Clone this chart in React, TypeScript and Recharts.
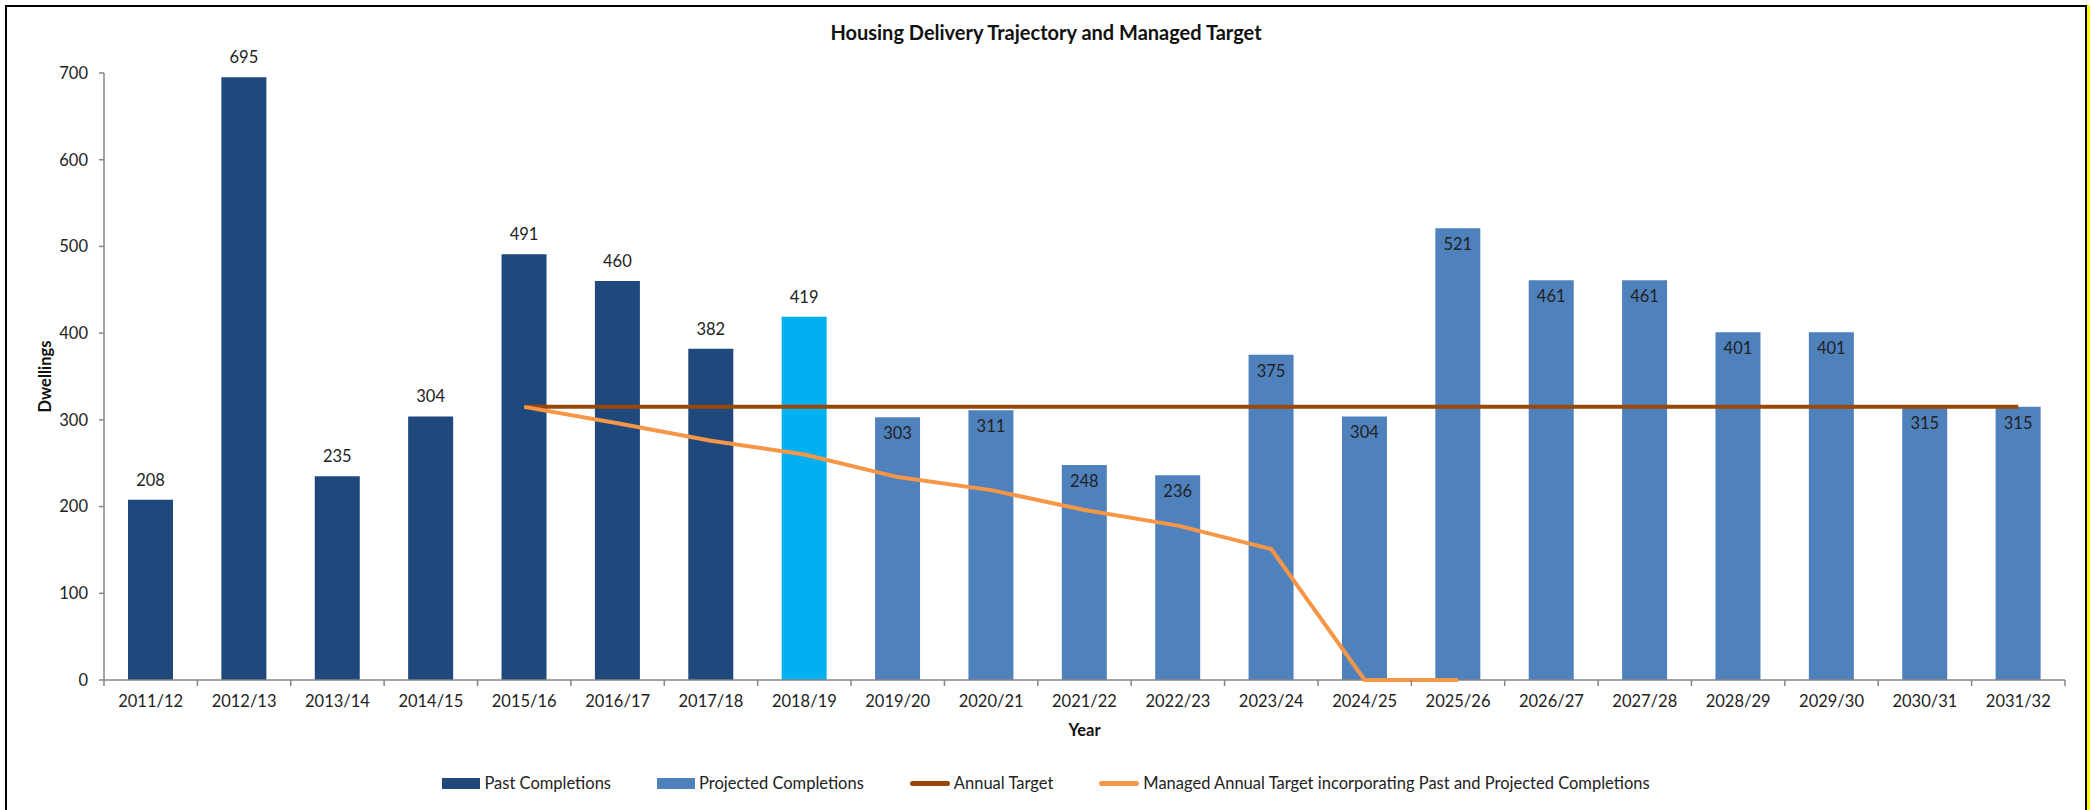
import React from 'react';
import { ComposedChart, Bar, Line, XAxis, YAxis, Legend, LabelList, Cell } from 'recharts';

const years = ['2011/12', '2012/13', '2013/14', '2014/15', '2015/16', '2016/17', '2017/18', '2018/19', '2019/20', '2020/21', '2021/22', '2022/23', '2023/24', '2024/25', '2025/26', '2026/27', '2027/28', '2028/29', '2029/30', '2030/31', '2031/32'];
const pastCompletions: (number | null)[] = [208, 695, 235, 304, 491, 460, 382, 419, null, null, null, null, null, null, null, null, null, null, null, null, null];
const projectedCompletions: (number | null)[] = [null, null, null, null, null, null, null, null, 303, 311, 248, 236, 375, 304, 521, 461, 461, 401, 401, 315, 315];
const annualTarget: (number | null)[] = [null, null, null, null, 315, 315, 315, 315, 315, 315, 315, 315, 315, 315, 315, 315, 315, 315, 315, 315, 315];
const managedTarget: (number | null)[] = [null, null, null, null, 315, 296, 276, 260, 234, 219, 196, 178, 151, 0, 0, null, null, null, null, null, null];
const yTicks = [0, 100, 200, 300, 400, 500, 600, 700];
const highlightYear = '2018/19';

const seriesNames = {
  past: 'Past Completions',
  projected: 'Projected Completions',
  annual: 'Annual Target',
  managed: 'Managed Annual Target incorporating Past and Projected Completions',
};

const COLORS = {
  past: '#1F497D',
  projected: '#4F81BD',
  highlight: '#00B0F0',
  annual: '#984807',
  managed: '#F79646',
  axis: '#868686',
  text: '#222222',
};

const FONT = "Lato, 'Open Sans', sans-serif";
const FS = 16.5;
const X_TICK_MARGIN = 15;

const data = years.map((year, i) => ({
  year,
  past: pastCompletions[i],
  projected: projectedCompletions[i],
  annual: annualTarget[i],
  managed: managedTarget[i],
}));

const XTick = (props: any) => {
  const { x, y, payload, index, visibleTicksCount, width } = props;
  const half = typeof payload?.offset === 'number' && payload.offset > 0 ? payload.offset : width / visibleTicksCount / 2;
  const axisY = y - X_TICK_MARGIN;
  return (
    <g>
      <line x1={x - half} x2={x - half} y1={axisY} y2={axisY + 6} stroke={COLORS.axis} strokeWidth={1.5} />
      {index === visibleTicksCount - 1 && (
        <line x1={x + half} x2={x + half} y1={axisY} y2={axisY + 6} stroke={COLORS.axis} strokeWidth={1.5} />
      )}
      <text x={x} y={y} dy="0.71em" textAnchor="middle" fill={COLORS.text} fontSize={FS} fontFamily={FONT}>
        {payload.value}
      </text>
    </g>
  );
};

const legendItems = [
  { key: 'past', type: 'rect', color: COLORS.past },
  { key: 'projected', type: 'rect', color: COLORS.projected },
  { key: 'annual', type: 'line', color: COLORS.annual },
  { key: 'managed', type: 'line', color: COLORS.managed },
];

const LegendContent = () => (
  <div style={{ display: 'flex', justifyContent: 'center', alignItems: 'center', height: 30, gap: 46, fontFamily: FONT, fontSize: FS, color: COLORS.text }}>
    {legendItems.map((it) => (
      <div key={it.key} style={{ display: 'flex', alignItems: 'center', gap: 4 }}>
        {it.type === 'rect' ? (
          <div style={{ width: 38, height: 11, background: it.color }} />
        ) : (
          <div style={{ width: 40, height: 5, borderRadius: 3, background: it.color }} />
        )}
        <span style={{ whiteSpace: 'nowrap' }}>{(seriesNames as any)[it.key]}</span>
      </div>
    ))}
  </div>
);

export default function App() {
  return (
    <div style={{ position: 'relative', width: 2092, height: 810, overflow: 'hidden', background: '#fff' }}>
      <style>{'body{margin:0;}'}</style>
      <div style={{ position: 'absolute', left: 5, top: 5, width: 2082, height: 900, border: '2px solid #000', boxSizing: 'border-box' }} />
      <div style={{ position: 'absolute', left: 2087, top: 5, width: 3, height: 810, background: '#FFFF00' }} />
      <div style={{ position: 'absolute', left: 0, top: 20, width: 2092, textAlign: 'center', fontFamily: FONT, fontWeight: 'bold', fontSize: 20, color: '#111', lineHeight: '24px' }}>
        Housing Delivery Trajectory and Managed Target
      </div>
      <div style={{ position: 'absolute', left: 0, top: 0 }}>
        <ComposedChart width={2092} height={810} data={data} margin={{ top: 73, right: 27, left: 44, bottom: 12 }}>
          <XAxis
            dataKey="year"
            height={88}
            tickSize={0}
            tickMargin={X_TICK_MARGIN}
            tickLine={false}
            interval={0}
            axisLine={{ stroke: COLORS.axis, strokeWidth: 1.5 }}
            tick={<XTick />}
            label={{
              content: (p: any) => {
                const vb = p.viewBox || {};
                return (
                  <text x={vb.x + vb.width / 2} y={vb.y + 50} dominantBaseline="central" textAnchor="middle" fontWeight="bold" fontSize={FS} fontFamily={FONT} fill="#111">
                    Year
                  </text>
                );
              },
            }}
          />
          <YAxis
            width={60}
            domain={[0, 700]}
            ticks={yTicks}
            interval={0}
            tickSize={5}
            tickMargin={11}
            axisLine={{ stroke: COLORS.axis, strokeWidth: 1.5 }}
            tickLine={{ stroke: COLORS.axis, strokeWidth: 1.5 }}
            tick={{ fill: COLORS.text, fontSize: FS, fontFamily: FONT }}
            label={{
              content: (p: any) => {
                const vb = p.viewBox || {};
                const cx = vb.x + 1;
                const cy = vb.y + vb.height / 2;
                return (
                  <text x={cx} y={cy} transform={`rotate(-90 ${cx} ${cy})`} dominantBaseline="central" textAnchor="middle" fontWeight="bold" fontSize={FS} fontFamily={FONT} fill="#111">
                    Dwellings
                  </text>
                );
              },
            }}
          />
          <Legend verticalAlign="bottom" content={<LegendContent />} wrapperStyle={{ left: 0, width: 2092 }} />
          <Bar dataKey="past" name={seriesNames.past} stackId="a" barSize={45} fill={COLORS.past} isAnimationActive={false}>
            {data.map((d) => (
              <Cell key={d.year} fill={d.year === highlightYear ? COLORS.highlight : COLORS.past} />
            ))}
            <LabelList dataKey="past" position="top" offset={14} fill={COLORS.text} fontSize={FS} fontFamily={FONT} />
          </Bar>
          <Bar dataKey="projected" name={seriesNames.projected} stackId="a" barSize={45} fill={COLORS.projected} isAnimationActive={false}>
            <LabelList dataKey="projected" position="insideTop" offset={10} fill={COLORS.text} fontSize={FS} fontFamily={FONT} />
          </Bar>
          <Line dataKey="annual" name={seriesNames.annual} type="linear" stroke={COLORS.annual} strokeWidth={4} dot={false} activeDot={false} isAnimationActive={false} />
          <Line dataKey="managed" name={seriesNames.managed} type="linear" stroke={COLORS.managed} strokeWidth={4} dot={false} activeDot={false} isAnimationActive={false} {...({ zIndex: 1000 } as any)} />
        </ComposedChart>
      </div>
    </div>
  );
}
